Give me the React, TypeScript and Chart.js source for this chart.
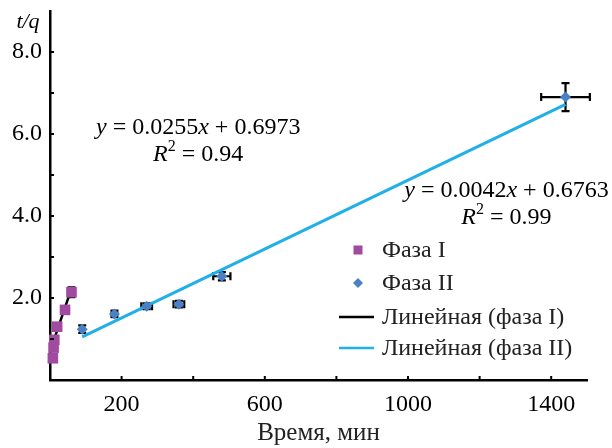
import React, { useEffect, useRef } from "react";
import { Chart, registerables } from "chart.js";

Chart.register(...registerables);

// ---- data ----
const phase1Time = [8, 10, 12, 20, 42, 60];
const phase1TQ = [0.53, 0.79, 0.98, 1.3, 1.71, 2.14];
const phase1ErrTime = [3, 3, 3, 3, 3, 3];
const phase1ErrTQ = [0.05, 0.05, 0.06, 0.07, 0.08, 0.12];

const phase2Time = [90, 180, 270, 360, 480, 1440];
const phase2TQ = [1.24, 1.61, 1.8, 1.85, 2.53, 6.9];
const phase2ErrTime = [4, 8, 15, 15, 24, 68];
const phase2ErrTQ = [0.09, 0.08, 0.07, 0.08, 0.1, 0.34];

const fit1Coef = [0.0255, 0.6973]; // slope, intercept
const fit1Range = [0, 60];
const fit1R2 = "0.94";
const fit2Coef = [0.0042, 0.6763];
const fit2Range = [90, 1440];
const fit2R2 = "0.99";

const xTickValues = [0, 200, 400, 600, 800, 1000, 1200, 1400];
const xTickLabels = [200, 600, 1000, 1400];
const yTickValues = [0, 1, 2, 3, 4, 5, 6, 7, 8];
const yTickLabels = [2, 4, 6, 8];

const seriesLabels = ["Фаза I", "Фаза II", "Линейная (фаза I)", "Линейная (фаза II)"];
const xTitle = "Время, мин";
const yTitle = "t/q";

// ---- styles ----
const PURPLE = "#A04AA0";
const BLUE = "#4A80C6";
const CYAN = "#20AFE6";
const FONT = "'Liberation Serif', 'Times New Roman', serif";

const pts = (xs: number[], ys: number[]) => xs.map((x, i) => ({ x, y: ys[i] }));
const fitPts = (coef: number[], range: number[]) =>
  range.map((x) => ({ x, y: coef[0] * x + coef[1] }));

function drawErrBars(ctx: CanvasRenderingContext2D, chart: any, xs: number[], ys: number[], ex: number[], ey: number[]) {
  const xs_ = chart.scales.x;
  const ys_ = chart.scales.y;
  const cap = 4;
  ctx.save();
  ctx.strokeStyle = "#000";
  ctx.lineWidth = 2.2;
  for (let i = 0; i < xs.length; i++) {
    const px = xs_.getPixelForValue(xs[i]);
    const py = ys_.getPixelForValue(ys[i]);
    const x1 = xs_.getPixelForValue(xs[i] - ex[i]);
    const x2 = xs_.getPixelForValue(xs[i] + ex[i]);
    const y1 = ys_.getPixelForValue(ys[i] - ey[i]);
    const y2 = ys_.getPixelForValue(ys[i] + ey[i]);
    ctx.beginPath();
    ctx.moveTo(x1, py); ctx.lineTo(x2, py);
    ctx.moveTo(x1, py - cap); ctx.lineTo(x1, py + cap);
    ctx.moveTo(x2, py - cap); ctx.lineTo(x2, py + cap);
    ctx.moveTo(px, y1); ctx.lineTo(px, y2);
    ctx.moveTo(px - cap, y1); ctx.lineTo(px + cap, y1);
    ctx.moveTo(px - cap, y2); ctx.lineTo(px + cap, y2);
    ctx.stroke();
  }
  ctx.restore();
}

type Seg = { t: string; italic?: boolean; sup?: boolean };

function drawRich(ctx: CanvasRenderingContext2D, segs: Seg[], cx: number, cy: number, size: number) {
  const fontFor = (s: Seg) => `${s.italic ? "italic " : ""}${s.sup ? Math.round(size * 0.65) : size}px ${FONT}`;
  let w = 0;
  for (const s of segs) { ctx.font = fontFor(s); w += ctx.measureText(s.t).width; }
  let x = cx - w / 2;
  ctx.textBaseline = "middle";
  ctx.textAlign = "left";
  ctx.fillStyle = "#000";
  for (const s of segs) {
    ctx.font = fontFor(s);
    ctx.fillText(s.t, x, s.sup ? cy - size * 0.33 : cy);
    x += ctx.measureText(s.t).width;
  }
}

const overlay = {
  id: "overlay",
  beforeDatasetsDraw(chart: any) {
    const ctx = chart.ctx;
    drawErrBars(ctx, chart, phase1Time, phase1TQ, phase1ErrTime, phase1ErrTQ);
    drawErrBars(ctx, chart, phase2Time, phase2TQ, phase2ErrTime, phase2ErrTQ);
  },
  afterDraw(chart: any) {
    const ctx = chart.ctx as CanvasRenderingContext2D;
    const xs = chart.scales.x;
    const ys = chart.scales.y;
    const area = chart.chartArea;
    ctx.save();
    // inward tick marks
    ctx.strokeStyle = "#000";
    ctx.lineWidth = 2;
    ctx.beginPath();
    for (const t of xs.ticks) {
      if (t.value <= xs.min || t.value >= xs.max) continue;
      const px = xs.getPixelForValue(t.value);
      ctx.moveTo(px, area.bottom); ctx.lineTo(px, area.bottom - 4);
    }
    for (const t of ys.ticks) {
      if (t.value <= ys.min || t.value >= ys.max) continue;
      const py = ys.getPixelForValue(t.value);
      ctx.moveTo(area.left, py); ctx.lineTo(area.left + 4, py);
    }
    ctx.stroke();

    // y title at top-left
    ctx.font = `italic 22px ${FONT}`;
    ctx.fillStyle = "#000";
    ctx.textAlign = "center";
    ctx.textBaseline = "middle";
    ctx.fillText(yTitle, 28, 22);

    // equations
    const eq = (coef: number[], r2: string, vx: number, vy: number) => {
      const cx = xs.getPixelForValue(vx);
      const cy = ys.getPixelForValue(vy);
      drawRich(ctx, [
        { t: "y", italic: true },
        { t: ` = ${coef[0].toFixed(4)}` },
        { t: "x", italic: true },
        { t: ` + ${coef[1].toFixed(4)}` },
      ], cx, cy, 24);
      drawRich(ctx, [
        { t: "R", italic: true },
        { t: "2", sup: true },
        { t: ` = ${r2}` },
      ], cx, cy + 27, 24);
    };
    eq(fit1Coef, fit1R2, 414, 6.15);
    eq(fit2Coef, fit2R2, 1275, 4.62);

    // legend
    const lx = 358;
    const tx = 382;
    const rows = [250, 283, 317, 348];
    ctx.font = `24px ${FONT}`;
    ctx.textAlign = "left";
    ctx.textBaseline = "middle";
    const ds = chart.data.datasets;
    ctx.fillStyle = ds[0].backgroundColor;
    ctx.fillRect(lx - 4.5, rows[0] - 4.5, 9, 9);
    ctx.fillStyle = ds[1].backgroundColor;
    ctx.beginPath();
    ctx.moveTo(lx, rows[1] - 5); ctx.lineTo(lx + 5, rows[1]);
    ctx.lineTo(lx, rows[1] + 5); ctx.lineTo(lx - 5, rows[1]);
    ctx.closePath(); ctx.fill();
    ctx.lineWidth = 2.5;
    ctx.strokeStyle = ds[2].borderColor;
    ctx.beginPath(); ctx.moveTo(339, rows[2]); ctx.lineTo(374, rows[2]); ctx.stroke();
    ctx.strokeStyle = ds[3].borderColor;
    ctx.beginPath(); ctx.moveTo(339, rows[3]); ctx.lineTo(374, rows[3]); ctx.stroke();
    ctx.fillStyle = "#222";
    for (let i = 0; i < 4; i++) ctx.fillText(ds[i].label, tx, rows[i] + 1);
    ctx.restore();
  },
};

export default function App() {
  const ref = useRef<HTMLCanvasElement | null>(null);
  useEffect(() => {
    document.body.style.margin = "0";
    if (!ref.current) return;
    const chart = new Chart(ref.current, {
      type: "scatter",
      data: {
        datasets: [
          {
            label: seriesLabels[0],
            data: pts(phase1Time, phase1TQ),
            pointStyle: "rect",
            pointRadius: 7.5,
            pointHoverRadius: 7.5,
            backgroundColor: PURPLE,
            borderWidth: 0,
            clip: false,
          },
          {
            label: seriesLabels[1],
            data: pts(phase2Time, phase2TQ),
            pointStyle: "rectRot",
            pointRadius: 5.5,
            pointHoverRadius: 5.5,
            backgroundColor: BLUE,
            borderWidth: 0,
            clip: false,
          },
          {
            label: seriesLabels[2],
            data: fitPts(fit1Coef, fit1Range),
            showLine: true,
            pointRadius: 0,
            borderColor: "#000",
            backgroundColor: "#000",
            borderWidth: 2.5,
            clip: false,
          },
          {
            label: seriesLabels[3],
            data: fitPts(fit2Coef, fit2Range),
            showLine: true,
            pointRadius: 0,
            borderColor: CYAN,
            backgroundColor: CYAN,
            borderWidth: 3,
          },
        ],
      },
      options: {
        responsive: false,
        devicePixelRatio: 1,
        animation: false,
        layout: { padding: { top: 11, right: 25, left: 0, bottom: 0 } },
        plugins: { legend: { display: false }, tooltip: { enabled: false } },
        scales: {
          x: {
            type: "linear",
            min: 0,
            max: 1500,
            afterBuildTicks: (s: any) => { s.ticks = xTickValues.map((value) => ({ value })); },
            afterFit: (s: any) => { s.height = 68; s.paddingLeft = 0; s.paddingRight = 0; },
            grid: { display: false, drawTicks: false },
            border: { display: true, color: "#000", width: 2.5 },
            ticks: {
              padding: 10,
              color: "#000",
              font: { family: FONT, size: 24 },
              maxRotation: 0,
              autoSkip: false,
              callback: (v: any) => (xTickLabels.includes(Number(v)) ? String(v) : ""),
            },
            title: {
              display: true,
              text: xTitle,
              color: "#222",
              font: { family: FONT, size: 25 },
              padding: { top: 0, bottom: 0 },
            },
          },
          y: {
            type: "linear",
            min: 0,
            max: 9,
            afterBuildTicks: (s: any) => { s.ticks = yTickValues.map((value) => ({ value })); },
            afterFit: (s: any) => { s.width = 50; s.paddingTop = 0; s.paddingBottom = 0; },
            grid: { display: false, drawTicks: false },
            border: { display: true, color: "#000", width: 2.5 },
            ticks: {
              padding: 8,
              color: "#000",
              font: { family: FONT, size: 24 },
              autoSkip: false,
              callback: (v: any) => (yTickLabels.includes(Number(v)) ? Number(v).toFixed(1) : ""),
            },
          },
        },
      },
      plugins: [overlay],
    } as any);
    return () => chart.destroy();
  }, []);
  return (
    <div style={{ width: 612, height: 448 }}>
      <canvas ref={ref} width={612} height={448} />
    </div>
  );
}
